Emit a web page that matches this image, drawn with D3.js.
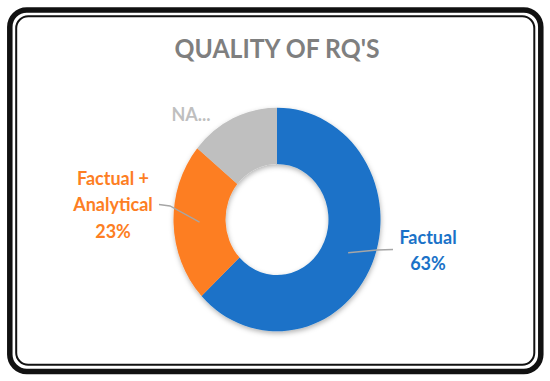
<!DOCTYPE html>
<html>
<head>
<meta charset="utf-8">
<script src="https://cdn.jsdelivr.net/npm/d3@7"></script>
<style>
  body { margin: 0; background: #fff; }
  svg { display: block; font-family: Lato, "Open Sans", sans-serif; font-weight: bold; }
</style>
</head>
<body>
<div id="chart"></div>
<script>
// Data
var categories = ["Factual", "Factual + Analytical", "NA"];
var values = [63, 23, 14];
var labelNames = [["Factual"], ["Factual +", "Analytical"], ["NA..."]];
var showPercent = [true, true, false];
var colors = ["#1a72c8", "#fd7e23", "#bfbfbf"];

// Dimensions
var opts = {
    width: 550,
    height: 381,
    cx: 277,
    cy: 219.5,
    rOuter: 103.5,
    rInner: 51.5,
    stretch: 1.08,   // the original picture is a bit taller than wide
    fontSize: 18,
    lineHeight: 26.5
};

// label placement, offsets from the pie centre (px)
var labelLayout = [
    { x: 151, y: 24, elbow: [100, 30.5], end: [116, 30] },
    { x: -164, y: -35, elbow: [-107, -13.5], end: [-118, -15] },
    { x: -86, y: -99, elbow: null, end: null }
];

var svg = d3.select("#chart")
    .append("svg")
    .attr("width", opts.width)
    .attr("height", opts.height);

var defs = svg.append("defs");
var shadow = defs.append("filter")
    .attr("id", "shadow")
    .attr("x", "-20%").attr("y", "-20%")
    .attr("width", "140%").attr("height", "140%");
shadow.append("feDropShadow")
    .attr("dx", 0.5)
    .attr("dy", 2)
    .attr("stdDeviation", 2.5)
    .attr("flood-color", "#000")
    .attr("flood-opacity", 0.3);

// Frame: thick outer border + thin inner line
svg.append("rect")
    .attr("x", 9.8).attr("y", 9.9)
    .attr("width", 531).attr("height", 361.6)
    .attr("rx", 17).attr("ry", 17)
    .attr("fill", "#fff")
    .attr("stroke", "#111")
    .attr("stroke-width", 5.5);

svg.append("rect")
    .attr("x", 16.2).attr("y", 16.2)
    .attr("width", 518.1).attr("height", 348.5)
    .attr("rx", 12).attr("ry", 12)
    .attr("fill", "none")
    .attr("stroke", "#111")
    .attr("stroke-width", 2);

// Title
var title = svg.append("text")
    .attr("x", 277)
    .attr("y", 0)
    .attr("text-anchor", "middle")
    .attr("transform", "translate(0,58) scale(1," + opts.stretch + ")")
    .attr("fill", "#7f7f7f")
    .attr("font-size", 25.5)
    .text("QUALITY OF RQ'S");
title.attr("textLength", 205).attr("lengthAdjust", "spacingAndGlyphs");

// Pie
var pie = d3.pie()
    .sort(null)
    .value(function(d) { return d.value; });

var arc = d3.arc()
    .innerRadius(opts.rInner)
    .outerRadius(opts.rOuter);

var data = categories.map(function(c, i) {
    return { name: c, value: values[i], color: colors[i], lines: labelNames[i], pct: showPercent[i], layout: labelLayout[i] };
});
var total = d3.sum(values);

var g = svg.append("g")
    .attr("transform", "translate(" + opts.cx + "," + opts.cy + ")");

var ring = g.append("g")
    .attr("transform", "scale(1," + opts.stretch + ")")
    .attr("filter", "url(#shadow)");

var arcs = pie(data);

ring.selectAll("path")
    .data(arcs)
    .enter().append("path")
    .attr("d", arc)
    .attr("fill", function(d) { return d.data.color; });

// Leader lines from slice centroid
g.selectAll("polyline")
    .data(arcs.filter(function(d) { return d.data.layout.end; }))
    .enter().append("polyline")
    .attr("points", function(d) {
        var c = arc.centroid(d);
        var l = d.data.layout;
        return [[c[0], c[1] * opts.stretch], l.elbow, l.end].join(" ");
    })
    .attr("fill", "none")
    .attr("stroke", "#a6a6a6")
    .attr("stroke-width", 1.3);

// Labels
var fmt = d3.format(".0%");
var labels = g.selectAll("text.label")
    .data(arcs)
    .enter().append("text")
    .attr("class", "label")
    .attr("text-anchor", "middle")
    .attr("font-size", opts.fontSize)
    .attr("fill", function(d) { return d.data.color; });

labels.each(function(d) {
    var t = d3.select(this);
    var lines = d.data.lines.slice();
    if (d.data.pct) lines.push(fmt(d.data.value / total));
    lines.forEach(function(s, i) {
        t.append("tspan")
            .attr("x", d.data.layout.x)
            .attr("y", d.data.layout.y + i * opts.lineHeight)
            .text(s);
    });
});
</script>
</body>
</html>
